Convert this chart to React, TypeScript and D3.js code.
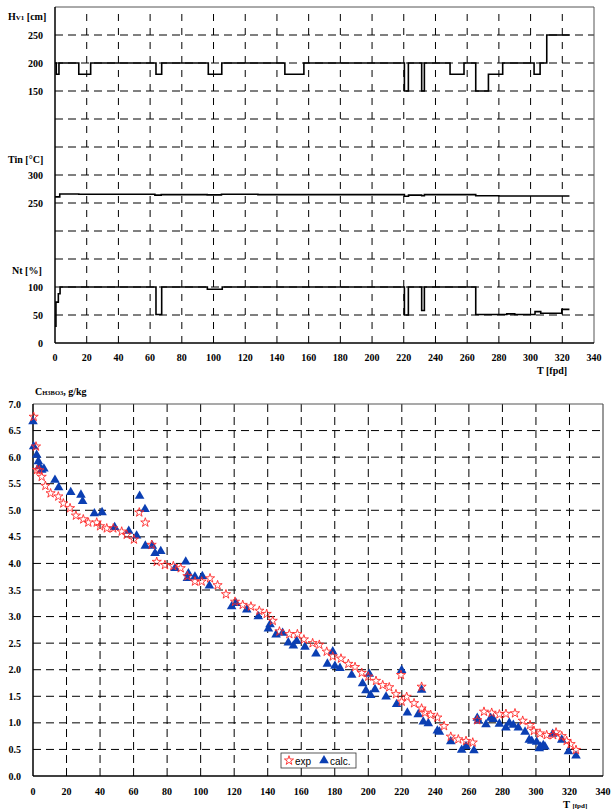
import React from "react";
import * as d3 from "d3";

// ---------- Top chart data (step lines) ----------
const hvT = [0, 0.8, 2.5, 15, 22.5, 63.7, 67.3, 96.7, 105.2, 145, 157, 220.4, 222.9, 231.3, 233, 249.2, 258, 265.4, 273.4, 282.4, 302.2, 306, 310.2, 324.5];
const hvV = [200, 180, 200, 180, 200, 180, 200, 180, 200, 180, 200, 150, 200, 150, 200, 180, 200, 150, 180, 200, 180, 200, 250, 250];

const tinT = [0, 3, 15, 63, 67, 96, 105, 128, 220.4, 223, 231.3, 233, 265.4, 280, 324.5];
const tinV = [261, 266, 265.5, 264, 265, 264.5, 265.5, 265, 262, 264, 263, 265, 263, 262.5, 262.5];

const ntT = [0, 0.6, 2.1, 3.2, 63.7, 67.3, 96.1, 105.5, 220.4, 222.9, 231.3, 233, 265.4, 285, 290, 302.8, 306.4, 319.7, 324.5];
const ntV = [30, 73, 88, 100, 51, 100, 96, 100, 50, 100, 58, 100, 51, 52, 51, 56, 53, 60, 60];

const xTicks = [0, 20, 40, 60, 80, 100, 120, 140, 160, 180, 200, 220, 240, 260, 280, 300, 320, 340];
const topYLabels = [
  { u: 0, t: "0" }, { u: 1, t: "50" }, { u: 2, t: "100" },
  { u: 5, t: "250" }, { u: 6, t: "300" },
  { u: 9, t: "150" }, { u: 10, t: "200" }, { u: 11, t: "250" },
];

// ---------- Bottom chart data (scatter) ----------
const expT = [0.4, 1.8, 2.4, 3.8, 5.2, 7.4, 10.5, 15.1, 18.1, 22.1, 25.6, 30, 33, 38, 40, 44, 47.9, 52.9, 55.9, 60.2, 63.4, 67, 70.8, 73.8, 78.7, 83.7, 88.1, 92.1, 96.6, 100.6, 105.6, 110.1, 115.1, 120.5, 125.1, 130, 135, 139.4, 143, 147, 152.9, 157.7, 161.6, 166.8, 170.8, 175.2, 178.8, 183.7, 188.1, 192.1, 196.1, 200, 204.6, 208.6, 212.5, 216.5, 219.5, 219.9, 222.9, 227.3, 231.8, 231.8, 233.8, 237.2, 241.2, 245.2, 249.2, 253.7, 258.3, 262.3, 265, 269, 273.6, 278.2, 282.1, 287.5, 292.1, 296.5, 298.8, 302.4, 306.4, 310.3, 312, 315.4, 318.3, 320.7, 323.9];
const expC = [6.76, 6.2, 5.76, 5.75, 5.63, 5.46, 5.32, 5.26, 5.13, 5.04, 4.9, 4.83, 4.77, 4.77, 4.7, 4.66, 4.66, 4.6, 4.54, 4.45, 4.96, 4.77, 4.35, 4.03, 3.97, 3.95, 3.91, 3.76, 3.66, 3.66, 3.72, 3.59, 3.42, 3.28, 3.22, 3.19, 3.11, 3.05, 2.92, 2.72, 2.67, 2.67, 2.57, 2.5, 2.47, 2.34, 2.25, 2.21, 2.11, 2.05, 1.94, 1.87, 1.79, 1.71, 1.67, 1.54, 1.9, 1.4, 1.49, 1.37, 1.68, 1.27, 1.19, 1.15, 1.1, 0.94, 0.74, 0.69, 0.66, 0.63, 1.05, 1.21, 1.19, 1.16, 1.17, 1.18, 1.04, 0.96, 0.85, 0.8, 0.77, 0.77, 0.82, 0.75, 0.66, 0.6, 0.49];

const calcT = [0, 0.4, 2.2, 3.2, 3.8, 5.2, 6.5, 13.1, 15.3, 22.5, 28.6, 29.6, 36.6, 41.2, 48.7, 57.1, 61.8, 63.6, 66.8, 67, 71.2, 72.8, 76.2, 84.7, 91.1, 92.7, 92.1, 96.6, 101, 105.2, 118.5, 121.1, 127.5, 134.4, 140.4, 141.4, 145, 148.9, 152.3, 155.3, 157.3, 162.2, 168.8, 175.6, 178.8, 180.1, 183.1, 190.1, 196.6, 198.6, 200.6, 201.4, 204, 210.6, 216.9, 219.9, 223.3, 229.8, 231.8, 232.8, 235.8, 241.2, 242.4, 249.2, 255.7, 258.3, 263, 265, 265.6, 270.2, 273, 274.6, 278.2, 282.1, 284.1, 286.5, 289.5, 293.5, 296, 297.5, 300.4, 302, 302.8, 304.4, 305.4, 310, 315.4, 319.4, 323.9];
const calcC = [6.67, 6.2, 6.04, 5.92, 5.83, 5.76, 5.78, 5.57, 5.43, 5.34, 5.29, 5.17, 4.94, 4.96, 4.68, 4.61, 4.52, 5.27, 5.02, 4.33, 4.33, 4.19, 4.23, 3.91, 4.03, 3.81, 3.72, 3.75, 3.76, 3.58, 3.19, 3.25, 3.13, 3.0, 2.77, 2.85, 2.66, 2.69, 2.51, 2.45, 2.54, 2.43, 2.3, 2.11, 2.34, 2.07, 2.03, 1.9, 1.74, 1.61, 1.92, 1.52, 1.63, 1.49, 1.35, 1.99, 1.19, 1.16, 1.62, 1.02, 0.99, 0.85, 0.83, 0.65, 0.49, 0.56, 0.48, 1.09, 1.04, 0.97, 1.09, 1.07, 0.98, 0.91, 1.0, 0.96, 0.91, 0.83, 0.68, 0.66, 0.64, 0.52, 0.55, 0.58, 0.55, 0.79, 0.68, 0.46, 0.38];

const bottomYTicks = [0, 0.5, 1, 1.5, 2, 2.5, 3, 3.5, 4, 4.5, 5, 5.5, 6, 6.5, 7];

const FONT = "'Liberation Serif', 'Times New Roman', serif";
const SANS = "'Liberation Sans', Arial, sans-serif";

export default function App() {
  // top chart scales
  const xt = d3.scaleLinear().domain([0, 340]).range([55, 594]);
  const yt = d3.scaleLinear().domain([0, 12]).range([343, 7]);
  const hvU = (v: number) => 9 + (v - 150) / 50;
  const tinU = (v: number) => 5 + (v - 250) / 50;
  const ntU = (v: number) => v / 50;
  const step = d3.line<[number, number]>().x(d => xt(d[0])).y(d => yt(d[1])).curve(d3.curveStepAfter);
  const hvPath = step(hvT.map((t, i) => [t, hvU(hvV[i])]))!;
  const tinPath = step(tinT.map((t, i) => [t, tinU(tinV[i])]))!;
  const ntPath = step(ntT.map((t, i) => [t, ntU(ntV[i])]))!;

  // bottom chart scales
  const xb = d3.scaleLinear().domain([0, 340]).range([33, 603]);
  const yb = d3.scaleLinear().domain([0, 7]).range([776, 404]);
  const star = d3.symbol(d3.symbolStar, 26)()!;
  const tri = d3.symbol(d3.symbolTriangle, 40)()!;

  const gridCol = "#000";
  return (
    <svg width={612} height={809} style={{ position: "absolute", left: 0, top: 0, background: "#fff" }}>
      {/* ===== TOP CHART ===== */}
      <g>
        {d3.range(1, 12).map(u => (
          <line key={"th" + u} x1={xt(0)} x2={xt(340)} y1={yt(u)} y2={yt(u)} stroke={gridCol} strokeWidth={1} strokeDasharray="8,5" />
        ))}
        {xTicks.filter(t => t > 0 && t < 340).map(t => (
          <line key={"tv" + t} x1={xt(t)} x2={xt(t)} y1={yt(0)} y2={yt(12)} stroke={gridCol} strokeWidth={1} strokeDasharray="7,7" />
        ))}
        <line x1={xt(0)} x2={xt(340)} y1={yt(12)} y2={yt(12)} stroke="#555" strokeWidth={1} />
        <line x1={xt(340)} x2={xt(340)} y1={yt(0)} y2={yt(12)} stroke="#555" strokeWidth={1} />
        <line x1={xt(0)} x2={xt(0)} y1={yt(0)} y2={yt(12)} stroke="#000" strokeWidth={1.5} />
        <line x1={xt(0)} x2={xt(340)} y1={yt(0)} y2={yt(0)} stroke="#000" strokeWidth={1.5} />
        <path d={hvPath} fill="none" stroke="#000" strokeWidth={1.6} />
        <path d={tinPath} fill="none" stroke="#000" strokeWidth={1.6} />
        <path d={ntPath} fill="none" stroke="#000" strokeWidth={1.6} />
        {topYLabels.map(l => (
          <text key={"tyl" + l.u} x={43} y={yt(l.u)} dy="0.35em" textAnchor="end" fontFamily={FONT} fontWeight="bold" fontSize={10}>{l.t}</text>
        ))}
        <text x={8} y={20} fontFamily={FONT} fontWeight="bold" fontSize={10}>H<tspan fontSize={7}>V1</tspan> [cm]</text>
        <text x={8} y={163} fontFamily={FONT} fontWeight="bold" fontSize={10}>Tin [°C]</text>
        <text x={12} y={274} fontFamily={FONT} fontWeight="bold" fontSize={10}>Nt [%]</text>
        {xTicks.map(t => (
          <text key={"txl" + t} x={xt(t)} y={361} textAnchor="middle" fontFamily={FONT} fontWeight="bold" fontSize={10}>{t}</text>
        ))}
        <text x={537} y={374} fontFamily={FONT} fontWeight="bold" fontSize={10}>T [fpd]</text>
      </g>

      {/* ===== BOTTOM CHART ===== */}
      <g>
        {bottomYTicks.filter(v => v > 0 && v < 7).map(v => (
          <line key={"bh" + v} x1={xb(0)} x2={xb(340)} y1={yb(v)} y2={yb(v)} stroke={gridCol} strokeWidth={1} strokeDasharray="8,5" />
        ))}
        {xTicks.filter(t => t > 0 && t < 340).map(t => (
          <line key={"bv" + t} x1={xb(t)} x2={xb(t)} y1={yb(0)} y2={yb(7)} stroke={gridCol} strokeWidth={1} strokeDasharray="8,5" />
        ))}
        <line x1={xb(0)} x2={xb(340)} y1={yb(7)} y2={yb(7)} stroke="#555" strokeWidth={1.2} />
        <line x1={xb(340)} x2={xb(340)} y1={yb(0)} y2={yb(7)} stroke="#555" strokeWidth={1.2} />
        <line x1={xb(0)} x2={xb(0)} y1={yb(0)} y2={yb(7)} stroke="#000" strokeWidth={1.5} />
        <line x1={xb(0)} x2={xb(340)} y1={yb(0)} y2={yb(0)} stroke="#000" strokeWidth={1.5} />
        {calcT.map((t, i) => (
          <path key={"c" + i} d={tri} transform={`translate(${xb(t)},${yb(calcC[i])})`} fill="#0b3fb3" />
        ))}
        {expT.map((t, i) => (
          <path key={"e" + i} d={star} transform={`translate(${xb(t)},${yb(expC[i])})`} fill="none" stroke="#ff2a2a" strokeWidth={0.9} />
        ))}
        {bottomYTicks.map(v => (
          <text key={"byl" + v} x={21} y={yb(v)} dy="0.35em" textAnchor="end" fontFamily={FONT} fontWeight="bold" fontSize={10}>{v.toFixed(1)}</text>
        ))}
        {xTicks.map(t => (
          <text key={"bxl" + t} x={xb(t)} y={795} textAnchor="middle" fontFamily={FONT} fontWeight="bold" fontSize={10}>{t}</text>
        ))}
        <text x={35} y={395} fontFamily={FONT} fontWeight="bold" fontSize={10}>C<tspan fontSize={6.5}>H3BO3</tspan>, g/kg</text>
        <text x={563} y={808} fontFamily={FONT} fontWeight="bold" fontSize={10.5}>T <tspan fontSize={7}>[fpd]</tspan></text>
        {/* legend */}
        <rect x={281} y={753} width={75} height={15} fill="#fff" stroke="#333" strokeWidth={0.8} />
        <path d={star} transform="translate(289,760.5)" fill="none" stroke="#ff2a2a" strokeWidth={0.9} />
        <text x={295} y={764.5} fontFamily={SANS} fontSize={10}>exp</text>
        <path d={tri} transform="translate(324,760.5)" fill="#0b3fb3" />
        <text x={330} y={764.5} fontFamily={SANS} fontSize={10}>calc.</text>
      </g>
    </svg>
  );
}
